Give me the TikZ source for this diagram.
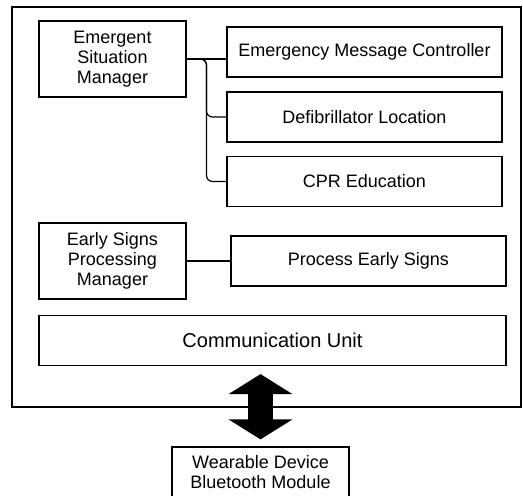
\documentclass[tikz,border=0pt]{standalone}
\usepackage{fontspec}
\setmainfont{Liberation Sans}
\usepackage{tikz}
\usetikzlibrary{arrows.meta, calc}

\begin{document}
\begin{tikzpicture}[x=1pt, y=-1pt,
  box/.style={draw, line width=1.2pt, align=center, inner sep=2pt, font=\fontsize{18}{20}\selectfont},
  link/.style={line width=1.2pt, rounded corners=6pt}]
\useasboundingbox (0,0) rectangle (523,496);
\node[draw, line width=1.2pt, minimum width=509pt, minimum height=400pt] (app) at (266.5,207) {};
\node[box, minimum width=147pt, minimum height=76pt] (esm) at (112.5,59) {Emergent\\Situation\\Manager};
\node[box, minimum width=275pt, minimum height=50pt] (emc) at (364.5,52) {Emergency Message Controller};
\node[box, minimum width=275pt, minimum height=50pt] (defib) at (364.5,117) {Defibrillator Location};
\node[box, minimum width=275pt, minimum height=50pt] (cpr) at (364.5,181.5) {CPR Education};
\node[box, minimum width=147pt, minimum height=76pt] (esp) at (112.5,261) {Early Signs\\Processing\\Manager};
\node[box, minimum width=275pt, minimum height=50pt] (pes) at (368.5,261) {Process Early Signs};
\node[box, minimum width=467pt, minimum height=50pt, font=\fontsize{20}{22}\selectfont] (comm) at (272.5,340.5) {Communication Unit};
\node[box, minimum width=177pt, minimum height=50pt] (wear) at (260.5,472) {Wearable Device\\Bluetooth Module};
% connectors
\coordinate (bus) at ($(esm.east)!0.5!(emc.west |- esm.east)$);
\draw[link] (esm.east) -- (emc.west |- esm.east);
\draw[link] (esm.east) -- (bus) |- (defib.west);
\draw[link] (esm.east) -- (bus) |- (cpr.west);
\draw[link] (esp.east) -- (pes.west);
\draw[line width=25pt, {Triangle[length=20pt, width=63pt]}-{Triangle[length=20pt, width=63pt]}] ([yshift=-8pt]comm.south -| wear.north) -- ([yshift=7pt]wear.north);
\end{tikzpicture}
\end{document}
